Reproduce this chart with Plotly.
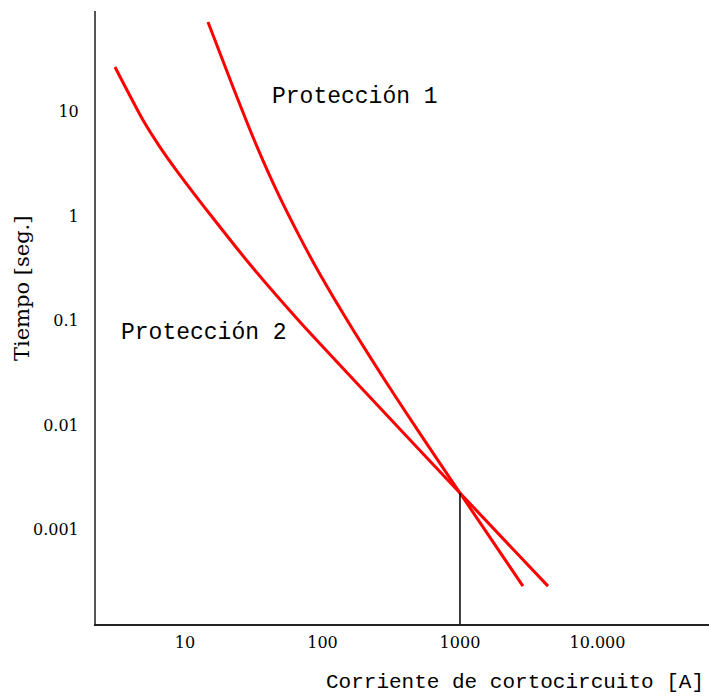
import numpy as np
import plotly.graph_objects as go

# Protección 1 (steeper curve): current [A], time [s]
p1_current = [14.7, 22.35, 31.76, 46.69, 68.62, 95.9, 166.7, 294.5, 512, 1000, 2870]
p1_time = [72.0, 17.2, 5.41, 1.727, 0.627, 0.2774, 0.0818, 0.02506, 0.00829, 0.00224, 0.000288]

# Protección 2
p2_current = [3.097, 4.95, 6.58, 8.748, 15.98, 31.23, 68.62, 210.7, 1000, 4365]
p2_time = [26.72, 8.31, 4.58, 2.701, 0.959, 0.3187, 0.097, 0.01984, 0.00224, 0.000288]

# Crossing marker line
cross_current = 1000
cross_time = 0.00224

x_tickvals = [10, 100, 1000, 10000]
x_ticktext = ["10", "100", "1000", "10.000"]
y_tickvals = [10, 1, 0.1, 0.01, 0.001]
y_ticktext = ["10", "1", "0.1", "0.01", "0.001"]

x_range_log = [0.353, 4.811]
y_range_log = [-3.903, 1.963]

mono = "Liberation Mono"
serif = "DejaVu Serif"

fig = go.Figure()
for cx, cy, nm in [(p1_current, p1_time, "Protección 1"), (p2_current, p2_time, "Protección 2")]:
    fig.add_trace(go.Scatter(x=cx, y=cy, mode="lines",
                             line=dict(color="#ff0000", width=3, shape="spline", smoothing=0.6),
                             name=nm, showlegend=False))
fig.add_trace(go.Scatter(x=[cross_current, cross_current],
                         y=[cross_time, 10 ** y_range_log[0]], mode="lines",
                         line=dict(color="black", width=1.5), showlegend=False))

fig.update_xaxes(type="log", range=x_range_log, tickvals=x_tickvals, ticktext=x_ticktext,
                 showgrid=False, zeroline=False, showline=True, linecolor="#222",
                 linewidth=1.5, ticks="", ticklabelstandoff=3,
                 tickfont=dict(family=serif, size=16, color="black"))
fig.update_yaxes(type="log", range=y_range_log, tickvals=y_tickvals, ticktext=y_ticktext,
                 showgrid=False, zeroline=False, showline=True, linecolor="#555",
                 linewidth=2, ticks="", ticklabelstandoff=12,
                 tickfont=dict(family=serif, size=16, color="black"))

fig.add_annotation(x=np.log10(172), y=np.log10(13.8), xref="x", yref="y",
                   xanchor="center", yanchor="middle",
                   text="Protección 1", showarrow=False,
                   font=dict(family=mono, size=23, color="black"))
fig.add_annotation(x=1.138, y=-1.119, xref="x", yref="y",
                   xanchor="center", yanchor="middle",
                   text="Protección 2", showarrow=False,
                   font=dict(family=mono, size=23, color="black"))
fig.add_annotation(x=0.6835, y=-0.0962, xref="paper", yref="paper",
                   xanchor="center", yanchor="middle",
                   text="Corriente de cortocircuito [A]", showarrow=False,
                   font=dict(family=mono, size=21, color="black"))
fig.add_annotation(x=-0.1207, y=0.548, xref="paper", yref="paper",
                   xanchor="center", yanchor="middle",
                   text="Tiempo [seg.]", showarrow=False, textangle=-90,
                   font=dict(family=serif, size=21, color="black"))

fig.update_layout(width=709, height=699, margin=dict(l=96, r=0, t=11, b=75),
                  plot_bgcolor="white", paper_bgcolor="white")

fig.write_html("out.html")
